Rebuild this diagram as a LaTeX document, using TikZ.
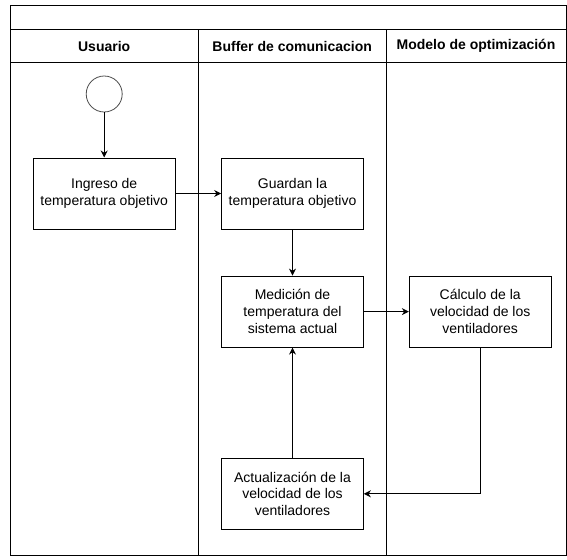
\documentclass[tikz,border=0pt]{standalone}
\usepackage{fontspec}
\setmainfont{Liberation Sans}
\usetikzlibrary{arrows.meta}
\begin{document}
\begin{tikzpicture}[x=1pt,y=-1pt,
  lane/.style={draw=black,line width=1pt},
  proc/.style={draw=black,line width=1pt,minimum width=141.7pt,minimum height=71pt,inner sep=0pt,align=center,font=\fontsize{14}{16.8}\selectfont},
  hdr/.style={font=\fontsize{14}{16.8}\selectfont\bfseries,inner sep=0pt},
  flow/.style={line width=1pt,-{Stealth[length=7pt,width=7pt]}}]
\useasboundingbox (0,0) rectangle (567,559);
\fill[white] (0,0) rectangle (567,559);
% swimlane frame
\draw[lane] (10,6) rectangle (566,555.7);
\draw[lane] (10,30) -- (566,30);
\draw[lane] (10,62.3) -- (566,62.3);
\draw[lane] (198.5,30) -- (198.5,555.7);
\draw[lane] (386,30) -- (386,555.7);
% headers
\node[hdr] (h1) at (104.2,46.2) {Usuario};
\node[hdr] (h2) at (292.2,46.2) {Buffer de comunicacion};
\node[hdr] (h3) at (476,46.2) {Modelo de optimización};
% start
\node[draw=black!70,line width=0.8pt,circle,minimum size=36pt,inner sep=0pt] (start) at (104.2,94) {};
% process boxes
\node[proc] (b1) at (104.2,193.5) {Ingreso de\\temperatura objetivo};
\node[proc] (b2) at (292.5,193.5) {Guardan la\\temperatura objetivo};
\node[proc] (b3) at (292.5,311.6) {Medición de\\temperatura del\\sistema actual};
\node[proc] (b4) at (480.2,311.6) {Cálculo de la\\velocidad de los\\ventiladores};
\node[proc] (b5) at (292.5,493.8) {Actualización de la\\velocidad de los\\ventiladores};
% connectors
\draw[flow] (start) -- (b1);
\draw[flow] (b1) -- (b2);
\draw[flow] (b2) -- (b3);
\draw[flow] (b3) -- (b4);
\draw[flow] (b4.south) |- (b5.east);
\draw[flow] (b5) -- (b3);
\end{tikzpicture}
\end{document}
